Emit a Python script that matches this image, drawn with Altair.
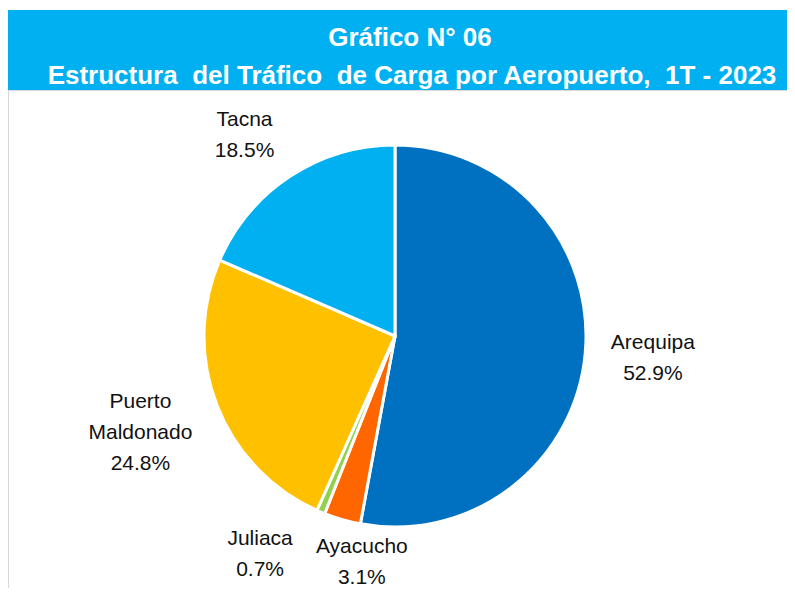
import altair as alt
import pandas as pd

# Data
categories = ["Arequipa", "Ayacucho", "Juliaca", "Puerto Maldonado", "Tacna"]
shares = [52.9, 3.1, 0.7, 24.8, 18.5]
colors = ["#0070C0", "#FF6600", "#92D050", "#FFC000", "#00B0F0"]

title1 = "Gráfico N° 06"
title2 = "Estructura\u00a0 del Tráfico\u00a0 de Carga por Aeropuerto,\u00a0 1T - 2023"

df = pd.DataFrame({"cat": categories, "val": shares, "ord": list(range(len(categories)))})

# label placement (styling): radius in px, angular adjustment in degrees (first text line)
lab_r = {"Arequipa": 258, "Ayacucho": 214, "Juliaca": 244, "Puerto Maldonado": 263, "Tacna": 263}
lab_adj = {"Arequipa": -3.6, "Ayacucho": -7.1, "Juliaca": 10.7, "Puerto Maldonado": 6.7, "Tacna": -1.6}

def case_expr(d):
    expr = "0"
    for k, v in d.items():
        expr = f"datum.cat == '{k}' ? {v} : ({expr})"
    return expr

CX, CY, R = 387, 328, 191
W, H = 779, 580

base = alt.Chart(df).transform_window(
    cum="sum(val)", sort=[alt.SortField("ord")], frame=[None, 0]
).transform_calculate(
    a0="(datum.cum - datum.val) / 100 * 2 * PI",
    a1="datum.cum / 100 * 2 * PI",
    la=f"(datum.cum - datum.val / 2) / 100 * 2 * PI + ({case_expr(lab_adj)}) * PI / 180",
    lr=case_expr(lab_r),
    label="replace(datum.cat, 'Puerto ', 'Puerto\\n') + '\\n' + format(datum.val, '.1f') + '%'",
)

arcs = base.mark_arc(outerRadius=R, stroke="white", strokeWidth=3).encode(
    theta=alt.Theta("a0:Q", scale=None),
    theta2="a1:Q",
    color=alt.Color("cat:N", scale=alt.Scale(domain=categories, range=colors), legend=None),
    x=alt.value(CX),
    y=alt.value(CY),
)

labels = base.mark_text(
    lineBreak="\n", fontSize=21, font="Liberation Sans", lineHeight=31,
    align="center", baseline="middle", color="#111111",
).encode(
    theta=alt.Theta("la:Q", scale=None),
    radius=alt.Radius("lr:Q", scale=None),
    text="label:N",
    x=alt.value(CX),
    y=alt.value(CY),
)

frame_df = pd.DataFrame({"k": [0]})
banner = alt.Chart(frame_df).mark_rect(color="#00B0F0").encode(
    x=alt.value(0), x2=alt.value(W + 20), y=alt.value(2), y2=alt.value(82)
)
border = alt.Chart(frame_df).mark_rect(fill=None, stroke="#D9D9D9", strokeWidth=2).encode(
    x=alt.value(0), x2=alt.value(W + 20), y=alt.value(82), y2=alt.value(H + 20)
)
t1 = alt.Chart(frame_df).mark_text(
    text=title1, font="Liberation Sans", fontSize=26, fontWeight="bold", color="white",
    align="center", baseline="middle",
).encode(x=alt.value(402), y=alt.value(30))
t2 = alt.Chart(frame_df).mark_text(
    text=title2, font="Liberation Sans", fontSize=26, fontWeight="bold", color="white",
    align="center", baseline="middle",
).encode(x=alt.value(404), y=alt.value(67.5))

chart = alt.layer(border, banner, t1, t2, arcs, labels).properties(
    width=W, height=H, autosize=alt.AutoSizeParams(type="none"), padding=0
).configure_view(strokeWidth=0)

chart.save("out.html", embed_options={"renderer": "svg", "actions": False})
